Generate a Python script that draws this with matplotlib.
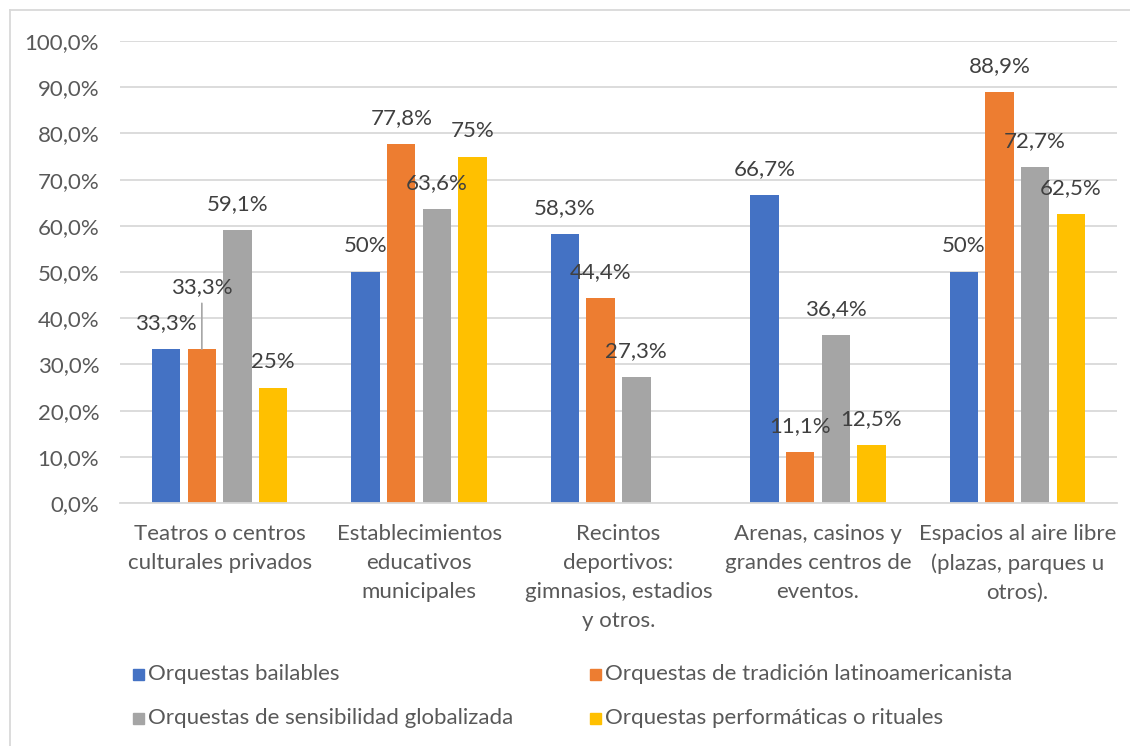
import numpy as np
import matplotlib
matplotlib.use("Agg")
import matplotlib.pyplot as plt
from matplotlib.patches import Rectangle
from matplotlib.lines import Line2D

plt.rcParams['font.family'] = ['Lato', 'DejaVu Sans']

categories = [
    "Teatros o centros\nculturales privados",
    "Establecimientos\neducativos\nmunicipales",
    "Recintos\ndeportivos:\ngimnasios, estadios\ny otros.",
    "Arenas, casinos y\ngrandes centros de\neventos.",
    "Espacios al aire libre\n(plazas, parques u\notros).",
]
series_names = [
    "Orquestas bailables",
    "Orquestas de tradición latinoamericanista",
    "Orquestas de sensibilidad globalizada",
    "Orquestas performáticas o rituales",
]
bailables = [33.3, 50.0, 58.3, 66.7, 50.0]
latinoamericanista = [33.3, 77.8, 44.4, 11.1, 88.9]
globalizada = [59.1, 63.6, 27.3, 36.4, 72.7]
performaticas = [25.0, 75.0, np.nan, 12.5, 62.5]
label_texts = [
    ["33,3%", "50%", "58,3%", "66,7%", "50%"],
    ["33,3%", "77,8%", "44,4%", "11,1%", "88,9%"],
    ["59,1%", "63,6%", "27,3%", "36,4%", "72,7%"],
    ["25%", "75%", "", "12,5%", "62,5%"],
]
yticks = [0, 10, 20, 30, 40, 50, 60, 70, 80, 90, 100]
ytick_labels = ["0,0%", "10,0%", "20,0%", "30,0%", "40,0%", "50,0%",
                "60,0%", "70,0%", "80,0%", "90,0%", "100,0%"]

colors = ["#4472C4", "#ED7D31", "#A5A5A5", "#FFC000"]
text_gray = "#595959"
label_gray = "#404040"
grid_gray = "#D9D9D9"
fs = 16

W, H = 1130, 746
fig = plt.figure(figsize=(W / 100, H / 100), dpi=100)
ax = fig.add_axes([120 / W, 243 / H, 997 / W, 462 / H])

values = [bailables, latinoamericanista, globalizada, performaticas]
x = np.arange(len(categories))
step = 0.179
width = 0.142
offsets = (np.arange(4) - 1.5) * step

for i, (vals, col) in enumerate(zip(values, colors)):
    bars = ax.bar(x + offsets[i], vals, width=width, color=col, zorder=3)
    for j, (b, v) in enumerate(zip(bars, vals)):
        txt = label_texts[i][j]
        if not txt or np.isnan(v):
            continue
        cx = b.get_x() + b.get_width() / 2
        dy = 18.5
        if i == 1 and j == 0:
            # label lifted above its neighbour, joined by a leader line
            dy = 45
            ax.annotate("", xy=(cx, v), xytext=(0, 33), textcoords="offset points",
                        arrowprops=dict(arrowstyle="-", color="#A6A6A6", lw=1.2,
                                        shrinkA=0, shrinkB=0), zorder=4)
        ax.annotate(txt, xy=(cx, v), xytext=(0, dy), textcoords="offset points",
                    ha="center", va="center", fontsize=fs, color=label_gray, zorder=5)

ax.set_xlim(-0.5, len(categories) - 0.5)
ax.set_ylim(0, 100)
ax.set_yticks(yticks)
ax.set_yticklabels(ytick_labels, fontsize=fs, color=text_gray)
ax.set_xticks(x)
ax.set_xticklabels(categories, fontsize=fs, color=text_gray, linespacing=1.56, va="top")
ax.tick_params(axis="both", length=0)
ax.tick_params(axis="y", pad=15)
ax.tick_params(axis="x", pad=15)
ax.grid(axis="y", color=grid_gray, lw=1.3, zorder=0)
for s in ["top", "right", "left"]:
    ax.spines[s].set_visible(False)
ax.spines["bottom"].set_color(grid_gray)
ax.spines["bottom"].set_linewidth(1.3)
ax.spines["bottom"].set_zorder(4)

# chart frame (top and left edges)
fig.add_artist(Line2D([10 / W, 10 / W], [0, 1 - 10 / H], transform=fig.transFigure,
                      color=grid_gray, lw=1.3))
fig.add_artist(Line2D([10 / W, 1], [1 - 10 / H, 1 - 10 / H], transform=fig.transFigure,
                      color=grid_gray, lw=1.3))

# legend in two columns
legend_pos = [(133, 674), (590, 674), (133, 718), (590, 718)]
sq = 11
for (px, py), name, col in zip(legend_pos, series_names, colors):
    fig.add_artist(Rectangle((px / W, (H - py - sq / 2) / H), sq / W, sq / H,
                             transform=fig.transFigure, color=col))
    fig.text((px + sq + 4) / W, (H - py) / H, name, fontsize=fs, color=text_gray,
             ha="left", va="center")

fig.savefig("out.png", dpi=100, facecolor="white")
